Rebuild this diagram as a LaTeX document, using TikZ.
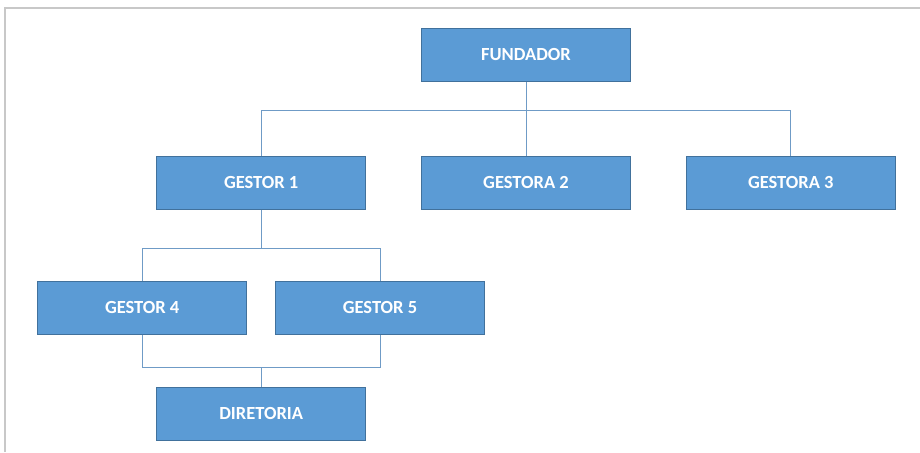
\documentclass[tikz,border=0pt]{standalone}
\usepackage{fontspec}
\setmainfont{Carlito}
\usetikzlibrary{positioning, calc}
\definecolor{BoxFill}{HTML}{5B9BD5}
\definecolor{BoxEdge}{HTML}{41719C}
\definecolor{LinkCol}{HTML}{6F9BC6}
\definecolor{FrameCol}{HTML}{C8C8C8}
\tikzset{
  orgbox/.style={draw=BoxEdge, thick, fill=BoxFill, text=white, align=center,
    minimum width=209pt, minimum height=53pt, inner sep=2pt,
    font=\fontsize{18.5}{21}\selectfont\bfseries},
  link/.style={draw=LinkCol, line width=0.9pt},
}
\begin{document}
\begin{tikzpicture}[x=1pt, y=1pt]
  \useasboundingbox (0,0) rectangle (920,-452);
  \draw[FrameCol, line width=1.5pt] (5,-452) -- (5,-8) -- (920,-8);

  \node[orgbox] (fund) at (526,-55) {FUNDADOR};
  \node[orgbox, below=74pt of fund] (g2) {GESTORA 2};
  \node[orgbox, left=55pt of g2] (g1) {GESTOR 1};
  \node[orgbox, right=55pt of g2] (g3) {GESTORA 3};
  \node[orgbox, below=71pt of g1, xshift=-119pt] (g4) {GESTOR 4};
  \node[orgbox, right=28pt of g4] (g5) {GESTOR 5};
  \node[orgbox, below=52pt of g1 |- g4.south] (dir) {DIRETORIA};

  % linhas do organograma
  \coordinate (bus1) at ($(fund.south)+(0,-29)$);
  \coordinate (bus2) at ($(g1.south)+(0,-39)$);
  \coordinate (bus3) at ($(dir.north)+(0,19)$);
  \draw[link] (fund) -- (g2);
  \draw[link] (g1.north) |- (bus1) -| (g3.north);
  \draw[link] (g1) -- (bus2);
  \draw[link] (g4.north) |- (bus2) -| (g5.north);
  \draw[link] (g4.south) |- (bus3) -| (g5.south);
  \draw[link] (bus3) -- (dir);
\end{tikzpicture}
\end{document}
